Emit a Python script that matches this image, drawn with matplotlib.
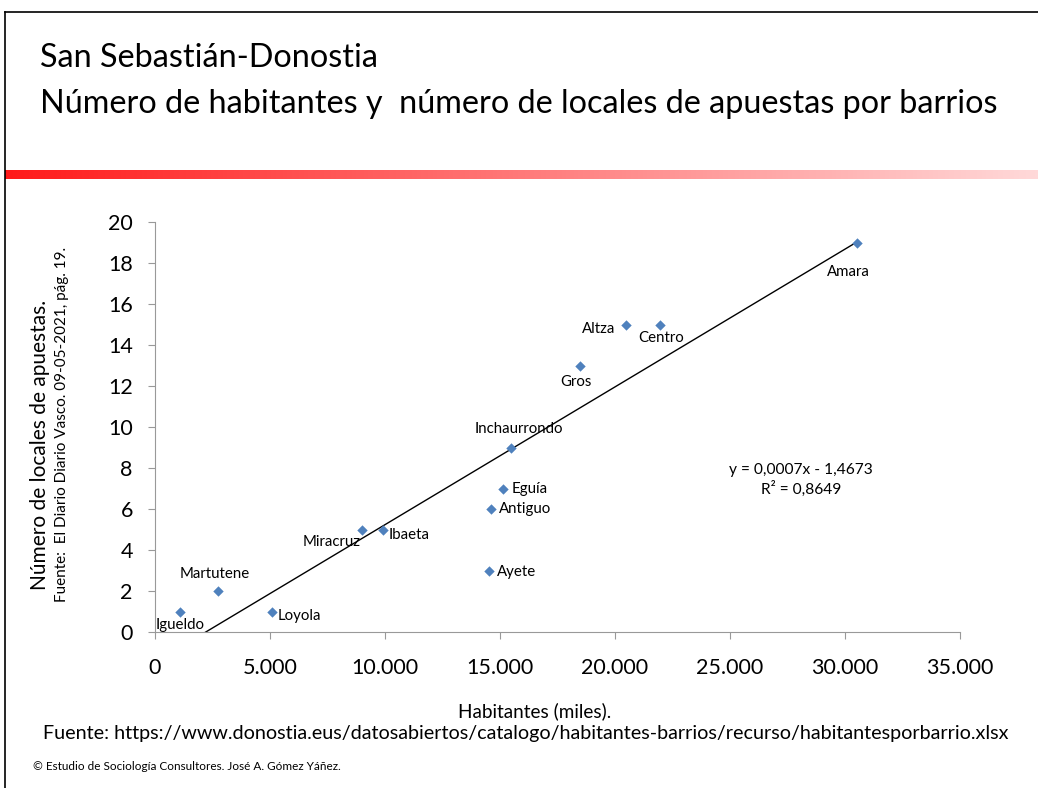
import numpy as np
import matplotlib
matplotlib.use("Agg")
import matplotlib.pyplot as plt
from matplotlib.ticker import FuncFormatter, MultipleLocator
from matplotlib.lines import Line2D

plt.rcParams['font.family'] = ['Lato', 'DejaVu Sans']

barrios = ["Igueldo", "Martutene", "Loyola", "Miracruz", "Ibaeta", "Ayete", "Antiguo",
           "Eguía", "Inchaurrondo", "Gros", "Altza", "Centro", "Amara"]
habitantes = [1090, 2740, 5090, 9000, 9910, 14520, 14610, 15130, 15480, 18480, 20480, 21960, 30520]
locales = [1, 2, 1, 5, 5, 3, 6, 7, 9, 13, 15, 15, 19]

# label offsets (points) and alignment
offsets = {
    "Igueldo": (0, -5, "center", "top"),
    "Martutene": (-2, 7, "center", "bottom"),
    "Loyola": (4, -3, "left", "center"),
    "Miracruz": (-1, -9, "right", "center"),
    "Ibaeta": (4, -4, "left", "center"),
    "Ayete": (6, -1, "left", "center"),
    "Antiguo": (6, 0, "left", "center"),
    "Eguía": (6, 0, "left", "center"),
    "Inchaurrondo": (6, 8, "center", "bottom"),
    "Gros": (-3, -7, "center", "top"),
    "Altza": (-8, -3, "right", "center"),
    "Centro": (1, -5, "center", "top"),
    "Amara": (-6, -21, "center", "center"),
}

W, H = 1038, 788
fig = plt.figure(figsize=(W / 100, H / 100), dpi=100)

# slide frame
fig.add_artist(Line2D([5 / W, 5 / W], [0, 1 - 12 / H], color='black', lw=1.2, transform=fig.transFigure))
fig.add_artist(Line2D([5 / W, 1], [1 - 12 / H, 1 - 12 / H], color='black', lw=1.2, transform=fig.transFigure))

# gradient bar
grad = np.linspace(0, 1, 512).reshape(1, -1)
cmap = matplotlib.colors.LinearSegmentedColormap.from_list("g", ["#ff1a1a", "#ffd9d9"])
gax = fig.add_axes([5 / W, 1 - 179 / H, 1 - 5 / W, 9 / H])
gax.imshow(grad, aspect='auto', cmap=cmap)
gax.axis('off')

# titles
fig.text(40 / W, 1 - 58 / H, "San Sebastián-Donostia", fontsize=23.3, va='center', ha='left')
fig.text(40 / W, 1 - 104 / H, "Número de habitantes y  número de locales de apuestas por barrios",
         fontsize=23.3, va='center', ha='left')

ax = fig.add_axes([155 / W, 1 - 632 / H, 805 / W, 410 / H])
ax.scatter(habitantes, locales, marker='D', s=28, color='#4f81bd', zorder=3, linewidths=0)

slope, intercept = np.polyfit(habitantes, locales, 1)
xs = np.linspace(min(habitantes), max(habitantes), 200)
ax.plot(xs, slope * xs + intercept, color='black', lw=1)

for name, x, y in zip(barrios, habitantes, locales):
    dx, dy, ha, va = offsets[name]
    ax.annotate(name, (x, y), xytext=(dx, dy), textcoords='offset points', ha=ha, va=va, fontsize=10.8)

ax.set_xlim(0, 35000)
ax.set_ylim(0, 20)
ax.xaxis.set_major_locator(MultipleLocator(5000))
ax.yaxis.set_major_locator(MultipleLocator(2))
ax.xaxis.set_major_formatter(FuncFormatter(lambda v, p: f"{int(v):,}".replace(",", ".")))
for s in ['top', 'right']:
    ax.spines[s].set_visible(False)
for s in ['left', 'bottom']:
    ax.spines[s].set_color('#999999')
ax.tick_params(axis='both', colors='#999999', labelcolor='black', labelsize=15.5, length=5, direction='out')
ax.tick_params(axis='x', pad=14)
ax.tick_params(axis='y', pad=11)

ax.text(0.8025, 0.371, "y = 0,0007x - 1,4673\nR² = 0,8649", transform=ax.transAxes,
        ha='center', va='center', fontsize=11.2, linespacing=1.3)

fig.text(40 / W, 1 - 445 / H, "Número de locales de apuestas.", rotation=90, fontsize=15,
         ha='center', va='center')
fig.text(62 / W, 1 - 424 / H, "Fuente:  El Diario Diario Vasco. 09-05-2021, pág. 19.", rotation=90,
         fontsize=11, ha='center', va='center')

fig.text(535 / W, 1 - 711 / H, "Habitantes (miles).", fontsize=13.6, ha='center', va='center')
fig.text(526 / W, 1 - 734 / H,
         "Fuente: https://www.donostia.eus/datosabiertos/catalogo/habitantes-barrios/recurso/habitantesporbarrio.xlsx",
         fontsize=14.2, ha='center', va='center')
fig.text(33 / W, 1 - 767 / H, "© Estudio de Sociología Consultores. José A. Gómez Yáñez.", fontsize=8.5,
         ha='left', va='center')

fig.savefig("out.png", dpi=100)
